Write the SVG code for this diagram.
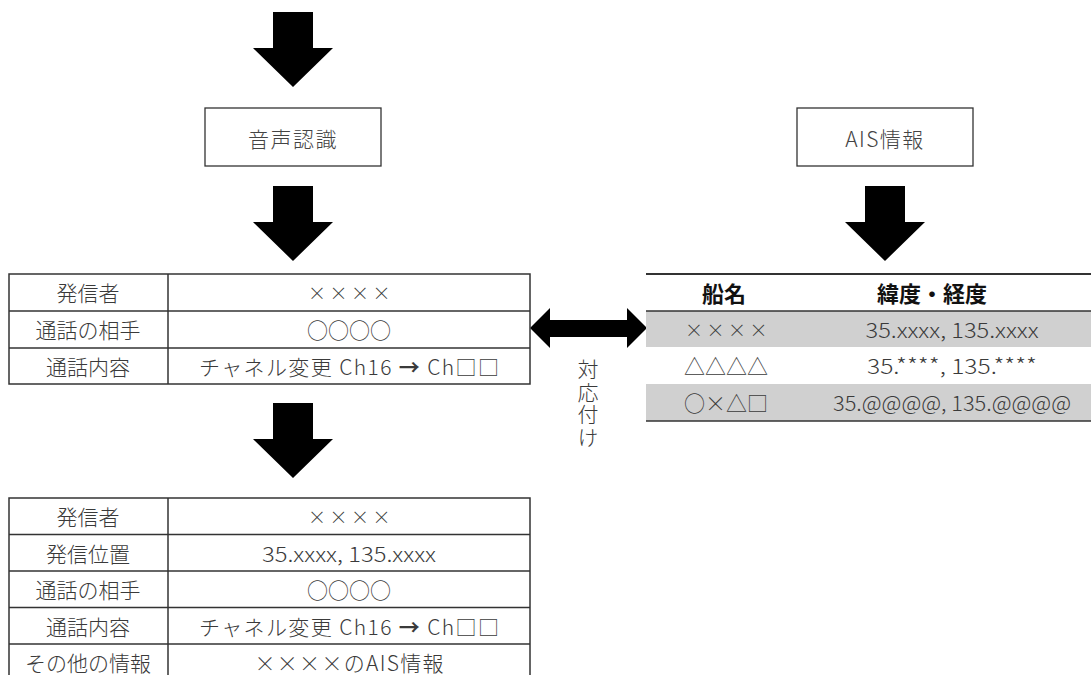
<svg xmlns="http://www.w3.org/2000/svg" width="1091" height="675" viewBox="0 0 1091 675">
<style>
text{font-family:"Noto Sans CJK JP","Noto Sans",sans-serif;fill:#3a3a3a;text-anchor:middle;dominant-baseline:central;font-size:21px;font-weight:300}
.b{font-size:21px;letter-spacing:1.5px;fill:#444}
.h{font-size:22px;font-weight:bold;fill:#111}
.v{writing-mode:vertical-rl;text-anchor:start;letter-spacing:1.5px}
.x{font-size:18px;letter-spacing:3.5px}
.cell{fill:#fff;stroke:#333;stroke-width:1.5}
.box{fill:#fff;stroke:#333;stroke-width:1.3}
.arr{fill:#000}
.ln{stroke:#333;stroke-width:1.5}
.g{fill:#d0d0d0}
.ab{font-weight:bold}
</style>
<defs>
<path id="down" d="M-20,0 H20 V36 H40 L0,75 L-40,36 H-20 Z"/>
</defs>
<g id="connectors">
<use href="#down" class="arr" x="293" y="12"/>
<use href="#down" class="arr" x="293" y="186"/>
<use href="#down" class="arr" x="293" y="403"/>
<use href="#down" class="arr" x="885" y="186"/>
<path class="arr" d="M530,328 L550,308 V320 H627 V308 L647,328 L627,348 V337 H550 V348 Z"/>
</g>
<g id="label-taiou">
<text class="v" x="588" y="359">対応付け</text>
</g>
<g id="node-onsei">
<rect class="box" x="205" y="108" width="176" height="58"/>
<text class="b" x="293" y="138">音声認識</text>
</g>
<g id="node-ais">
<rect class="box" x="797" y="108" width="176" height="58"/>
<text class="b" x="885" y="138">AIS情報</text>
</g>
<g id="node-table1">
<rect class="cell" x="9" y="274" width="521" height="110"/>
<line class="ln" x1="168" y1="274" x2="168" y2="384"/>
<line class="ln" x1="9" y1="311" x2="530" y2="311"/>
<line class="ln" x1="9" y1="348" x2="530" y2="348"/>
<text x="88" y="292">発信者</text>
<text class="x" x="351" y="292">××××</text>
<text x="88" y="329">通話の相手</text>
<text x="349" y="329">○○○○</text>
<text x="88" y="366">通話内容</text>
<text x="349" y="366" textLength="300" lengthAdjust="spacing">チャネル変更 Ch16 <tspan class="ab">→</tspan> Ch□□</text>
</g>
<g id="node-table2">
<rect class="cell" x="9" y="498" width="521" height="184"/>
<line class="ln" x1="168" y1="498" x2="168" y2="682"/>
<line class="ln" x1="9" y1="534.5" x2="530" y2="534.5"/>
<line class="ln" x1="9" y1="571" x2="530" y2="571"/>
<line class="ln" x1="9" y1="607.5" x2="530" y2="607.5"/>
<line class="ln" x1="9" y1="644" x2="530" y2="644"/>
<text x="88" y="516">発信者</text>
<text class="x" x="351" y="516">××××</text>
<text x="88" y="553">発信位置</text>
<text x="349" y="553" textLength="174" lengthAdjust="spacingAndGlyphs">35.xxxx, 135.xxxx</text>
<text x="88" y="589">通話の相手</text>
<text x="349" y="589">○○○○</text>
<text x="88" y="626">通話内容</text>
<text x="349" y="626" textLength="300" lengthAdjust="spacing">チャネル変更 Ch16 <tspan class="ab">→</tspan> Ch□□</text>
<text x="88" y="662">その他の情報</text>
<text x="349" y="662" textLength="189" lengthAdjust="spacing">××××のAIS情報</text>
</g>
<g id="node-aistable">
<rect class="g" x="646" y="311" width="445" height="36"/>
<rect class="g" x="646" y="384" width="445" height="37"/>
<line x1="646" y1="274" x2="1091" y2="274" stroke="#333" stroke-width="2"/>
<line x1="646" y1="311" x2="1091" y2="311" stroke="#333" stroke-width="1.5"/>
<line x1="646" y1="421" x2="1091" y2="421" stroke="#333" stroke-width="1.5"/>
<text class="h" x="724" y="292">船名</text>
<text class="h" x="932" y="292">緯度・経度</text>
<text class="x" x="728" y="329">××××</text>
<text x="952" y="329" textLength="173" lengthAdjust="spacingAndGlyphs">35.xxxx, 135.xxxx</text>
<text x="726" y="365">△△△△</text>
<text x="952" y="365" textLength="170" lengthAdjust="spacingAndGlyphs">35.****, 135.****</text>
<text x="726" y="402">○×△□</text>
<text x="952" y="402" textLength="238" lengthAdjust="spacingAndGlyphs">35.@@@@, 135.@@@@</text>
</g>
</svg>
